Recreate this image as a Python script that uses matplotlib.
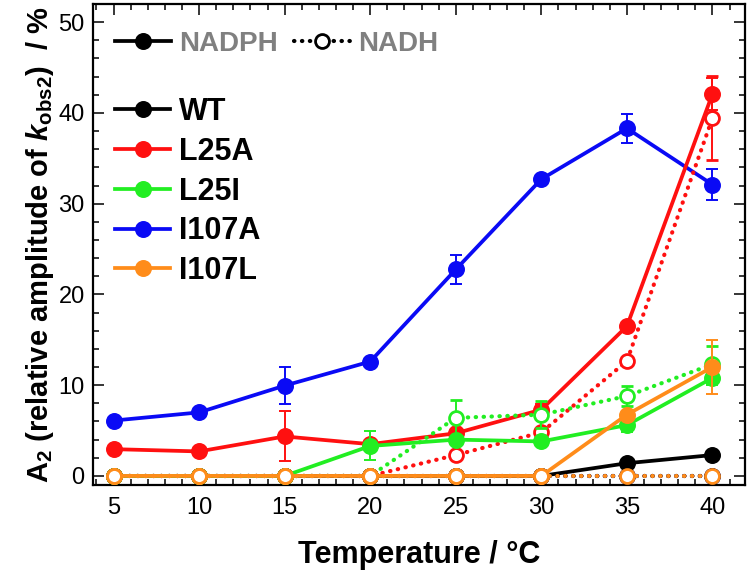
import matplotlib
matplotlib.use("Agg")
import matplotlib.pyplot as plt
from matplotlib.lines import Line2D
from matplotlib.ticker import MultipleLocator

plt.rcParams['font.family'] = ['Liberation Sans', 'DejaVu Sans']
plt.rcParams['mathtext.fontset'] = 'custom'
plt.rcParams['mathtext.rm'] = 'Liberation Sans'
plt.rcParams['mathtext.it'] = 'Liberation Sans:italic:bold'
plt.rcParams['mathtext.bf'] = 'Liberation Sans:bold'

# ---------------- data ----------------
temperature = [5, 10, 15, 20, 25, 30, 35, 40]

wt_nadph = [0, 0, 0, 0, 0, 0, 1.4, 2.3]
wt_nadph_err = [0, 0, 0, 0, 0, 0, 0, 0]
wt_nadh = [0, 0, 0, 0, 0, 0, 0, 0]

l25a_nadph = [2.95, 2.7, 4.35, 3.5, 4.7, 7.3, 16.5, 42.1]
l25a_nadph_err = [0, 0, 2.75, 0, 0, 0.6, 0, 1.8]
l25a_nadh = [0, 0, 0, 0, 2.3, 4.8, 12.65, 39.45]
l25a_nadh_err = [0, 0, 0, 0, 0, 0, 0, 4.6]

l25i_nadph = [0, 0, 0, 3.3, 4.0, 3.8, 5.6, 10.8]
l25i_nadph_err = [0, 0, 0, 1.6, 0, 0, 0.8, 0.8]
l25i_nadh = [0, 0, 0, 0, 6.4, 6.75, 8.8, 12.3]
l25i_nadh_err = [0, 0, 0, 0, 2.0, 1.5, 1.1, 2.0]

i107a_nadph = [6.1, 7.0, 9.95, 12.6, 22.75, 32.7, 38.3, 32.1]
i107a_nadph_err = [0, 0, 2.0, 0, 1.6, 0, 1.6, 1.7]
i107a_nadh = [0, 0, 0, 0, 0, 0, 0, 0]

i107l_nadph = [0, 0, 0, 0, 0, 0, 6.75, 12.0]
i107l_nadph_err = [0, 0, 0, 0, 0, 0, 0, 2.95]
i107l_nadh = [0, 0, 0, 0, 0, 0, 0, 0]

names = ['WT', 'L25A', 'L25I', 'I107A', 'I107L']
colors = {'WT': '#000000', 'L25A': '#FF1010', 'L25I': '#22EE22',
          'I107A': '#0A0AF5', 'I107L': '#FF8C1A'}

x_ticks = [5, 10, 15, 20, 25, 30, 35, 40]
y_ticks = [0, 10, 20, 30, 40, 50]

# ---------------- figure ----------------
fig = plt.figure(figsize=(7.5, 5.74), dpi=100)
ax = fig.add_axes([93 / 750, (574 - 485) / 574, (745 - 93) / 750, (485 - 4) / 574])

LW = 2.7
LW_D = 3.0
MS_F = 11.2
MS_O = 10.0
DOT = (0, (0.1, 1.8))


def solid(y, err, c, z):
    ax.errorbar(temperature, y, yerr=err, color=c, lw=LW, marker='o', ms=MS_F,
                mfc=c, mec=c, elinewidth=1.4, capsize=4.5, capthick=1.4, zorder=z)


def dotted(y, err, c, z):
    eb = ax.errorbar(temperature, y, yerr=err, color=c, lw=LW_D, ls=DOT,
                     marker='o', ms=MS_O, mfc='white', mec=c, mew=2.0,
                     elinewidth=1.4, capsize=4.5, capthick=1.4, zorder=z)
    eb.lines[0].set_dash_capstyle('round')


solid(i107a_nadph, i107a_nadph_err, colors['I107A'], 2)
dotted(i107a_nadh, [0] * 8, colors['I107A'], 2)
solid(wt_nadph, wt_nadph_err, colors['WT'], 3)
dotted(wt_nadh, [0] * 8, colors['WT'], 3)
dotted(l25a_nadh, l25a_nadh_err, colors['L25A'], 4)
solid(l25a_nadph, l25a_nadph_err, colors['L25A'], 4)
solid(l25i_nadph, l25i_nadph_err, colors['L25I'], 5)
dotted(l25i_nadh, l25i_nadh_err, colors['L25I'], 5)
solid(i107l_nadph, i107l_nadph_err, colors['I107L'], 6)
dotted(i107l_nadh, [0] * 8, colors['I107L'], 7)

ax.set_xlim(3.8, 41.9)
ax.set_ylim(-1.0, 52.0)
ax.set_xticks(x_ticks)
ax.set_yticks(y_ticks)
ax.xaxis.set_minor_locator(MultipleLocator(1))
ax.yaxis.set_minor_locator(MultipleLocator(2))
ax.tick_params(which='both', direction='in', top=True, right=True, width=1.1)
ax.tick_params(which='major', length=8, labelsize=17)
ax.tick_params(which='minor', length=4.5)
ax.tick_params(axis='x', pad=9)
ax.tick_params(axis='y', pad=6)
for s in ax.spines.values():
    s.set_linewidth(1.6)

ax.set_xlabel('Temperature / °C', fontsize=22, fontweight='bold', labelpad=15)
ax.set_ylabel(r'A$_\mathregular{2}$ (relative amplitude of $\mathit{k}_\mathregular{obs2}$)  / %',
              fontsize=21, fontweight='bold', labelpad=2)

# ---------------- legends ----------------
h1 = [Line2D([], [], color='black', lw=LW, marker='o', ms=MS_F, mfc='black', mec='black'),
      Line2D([], [], color='black', lw=LW_D, ls=DOT, dash_capstyle='round',
             marker='o', ms=MS_O, mfc='white', mec='black', mew=2.0)]
leg1 = ax.legend(h1, ['NADPH', 'NADH'], loc='upper left', ncol=2, frameon=False,
                 bbox_to_anchor=((115 - 93) / 652, (485 - 31) / 481),
                 borderpad=0, borderaxespad=0, handlelength=2.0, handletextpad=0.3,
                 columnspacing=0.6, prop={'weight': 'bold', 'size': 20},
                 labelcolor='#808080')
ax.add_artist(leg1)

h2 = [Line2D([], [], color=colors[n], lw=LW, marker='o', ms=MS_F, mfc=colors[n], mec=colors[n])
      for n in names]
ax.legend(h2, names, loc='upper left', frameon=False,
          bbox_to_anchor=((115 - 93) / 652, (485 - 97) / 481),
          borderpad=0, borderaxespad=0, handlelength=1.8, handletextpad=0.3,
          labelspacing=0.32, prop={'weight': 'bold', 'size': 22})

fig.savefig('out.png', dpi=100)
